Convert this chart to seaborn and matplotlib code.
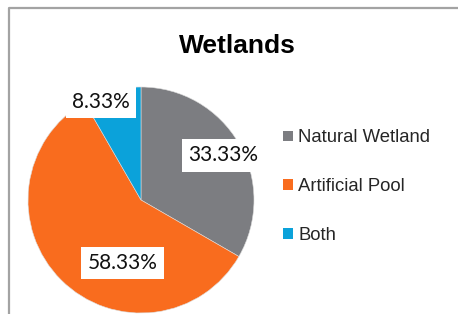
import numpy as np
import matplotlib.pyplot as plt
import seaborn as sns
from matplotlib.lines import Line2D

# data
categories = ['Natural Wetland', 'Artificial Pool', 'Both']
shares = [33.33, 58.33, 8.33]
colors = ['#7C7D81', '#F96C1E', '#0BA2DA']

# label placement (radius, angle in degrees) like Excel "best fit"
label_pos = [(0.826, 28.5), (0.581, -106.4), (0.937, 112.2)]

sns.set_theme(style='white')
plt.rcParams['font.family'] = ['Liberation Sans', 'DejaVu Sans']

fig = plt.figure(figsize=(4.58, 3.14), dpi=100)
fig.patch.set_facecolor('white')

# chart frame (only left and top visible)
fig.add_artist(Line2D([8.5 / 458, 8.5 / 458, 1.0], [0.0, 1 - 8 / 314, 1 - 8 / 314],
                      transform=fig.transFigure, color='#A3A3A3', lw=1.6))

ax = fig.add_axes([28 / 458, 1 / 314, 226 / 458, 226 / 314])
wedges, texts, autotexts = ax.pie(shares, colors=colors, startangle=90, counterclock=False,
                                  autopct='%.2f%%',
                                  wedgeprops=dict(edgecolor='#DDDDDD', linewidth=0.4),
                                  textprops=dict(family='Lato', fontsize=15, color='#111111'))
for w in wedges:
    w.set_clip_on(False)
for t, s, (r, a) in zip(autotexts, shares, label_pos):
    t.set_text(f'{s:.2f}%')
    t.set_position((r * np.cos(np.radians(a)), r * np.sin(np.radians(a))))
    t.set_bbox(dict(boxstyle='square,pad=0.3', facecolor='white', edgecolor='none'))
ax.set_xlim(-1, 1)
ax.set_ylim(-1, 1)

fig.text(237 / 458, 1 - 46 / 314, 'Wetlands', ha='center', va='center',
         fontsize=19, fontweight='bold', color='black')

leg = fig.legend(wedges, categories, loc='upper left', bbox_to_anchor=(276 / 458, 1 - 122 / 314),
                 frameon=False, fontsize=13.3, handlelength=0.5, handleheight=0.5,
                 handletextpad=0.3, labelspacing=1.72, borderaxespad=0)
for h in leg.legend_handles:
    h.set_edgecolor('none')

fig.savefig('out.png', dpi=100, facecolor='white')
